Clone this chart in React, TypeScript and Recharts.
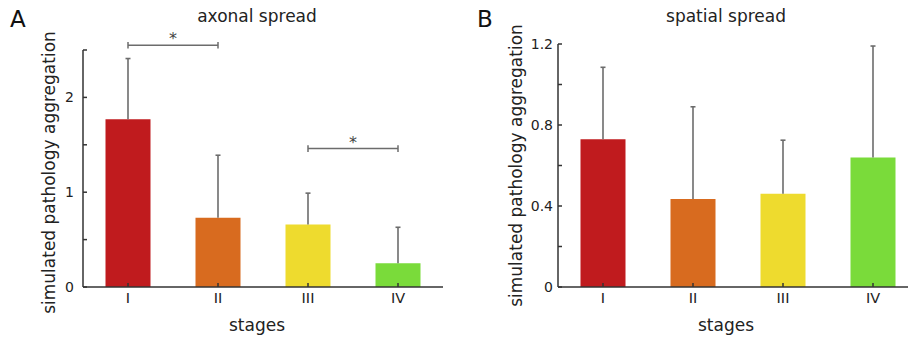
import { BarChart, Bar, XAxis, YAxis, Cell, ReferenceLine, Label } from "recharts";

const stages = ["I", "II", "III", "IV"];
const stageColors = ["#c01b1e", "#d86b1f", "#eedb2e", "#7adb3a"];

// mean and upper error (sd) per stage
const axonalMean = [1.77, 0.73, 0.66, 0.25];
const axonalErr = [0.64, 0.66, 0.33, 0.38];
const spatialMean = [0.73, 0.435, 0.46, 0.64];
const spatialErr = [0.355, 0.455, 0.265, 0.55];

const axonalTicks = [0, 0.5, 1, 1.5, 2, 2.5];
const axonalTickLabels = [0, 1, 2];
const spatialTicks = [0, 0.2, 0.4, 0.6, 0.8, 1.0, 1.2];
const spatialTickLabels = [0, 0.4, 0.8, 1.2];

// significance brackets (axonal panel only)
const axonalSig = [
  { from: "I", to: "II", y: 2.55, cap: 0.035 },
  { from: "III", to: "IV", y: 1.46, cap: 0.035 },
];

const axisColor = "#333";
const whiskerColor = "#6c6c6c";

function ErrorWhisker(props: any) {
  const { x, y, width, height } = props;
  if (height == null || isNaN(height)) return null;
  const cx = x + width / 2;
  return (
    <g stroke={whiskerColor} strokeWidth={1.6}>
      <line x1={cx} x2={cx} y1={y} y2={y + height} />
      <line x1={cx - 2.5} x2={cx + 2.5} y1={y} y2={y} />
    </g>
  );
}

function Panel(props: any) {
  const { means, errs, ticks, tickLabels, domain, width, margin, yAxisWidth, tickMargin, labelOffset, labelDy, stagesDx, sig } = props;
  const rows = stages.map((s, i) => ({ stage: s, mean: means[i], err: errs[i] }));
  const fmt = (v: number) => (tickLabels.includes(v) ? (v === 0 ? "0" : Number.isInteger(v) && ticks.length < 7 ? String(v) : v.toFixed(1)) : "");

  return (
    <BarChart width={width} height={341} data={rows} margin={margin} barCategoryGap="25%">
      <XAxis
        dataKey="stage"
        height={50}
        tickSize={-4}
        tickMargin={10}
        axisLine={{ stroke: axisColor, strokeWidth: 1.5 }}
        tickLine={{ stroke: axisColor, strokeWidth: 1.5 }}
        tick={{ fill: "#222", fontSize: 14.5 }}
      >
        <Label value="stages" position="insideBottom" offset={6} dx={stagesDx} fill="#222" fontSize={17} />
      </XAxis>
      <YAxis
        type="number"
        domain={domain}
        ticks={ticks}
        interval={0}
        width={yAxisWidth}
        tickSize={-4}
        tickMargin={tickMargin}
        tickFormatter={fmt}
        axisLine={{ stroke: axisColor, strokeWidth: 1.5 }}
        tickLine={{ stroke: axisColor, strokeWidth: 1.5 }}
        tick={{ fill: "#222", fontSize: 14 }}
      >
        <Label
          value="simulated pathology aggregation"
          angle={-90}
          position="insideLeft"
          offset={labelOffset}
          dy={labelDy}
          fill="#222"
          fontSize={17}
          style={{ textAnchor: "middle" }}
        />
      </YAxis>
      <Bar dataKey="mean" stackId="s" isAnimationActive={false}>
        {rows.map((r, i) => (
          <Cell key={r.stage} fill={stageColors[i]} />
        ))}
      </Bar>
      <Bar dataKey="err" stackId="s" isAnimationActive={false} shape={(p: any) => <ErrorWhisker {...p} />} />
      {sig.map((b: any) => [
        <ReferenceLine
          key={b.from + "h"}
          segment={[{ x: b.from, y: b.y }, { x: b.to, y: b.y }]}
          stroke={whiskerColor}
          strokeWidth={1.5}
          ifOverflow="visible"
          label={{ value: "*", position: "top", offset: 1, fill: "#444", fontSize: 16 }}
        />,
        <ReferenceLine
          key={b.from + "l"}
          segment={[{ x: b.from, y: b.y - b.cap }, { x: b.from, y: b.y + b.cap }]}
          stroke={whiskerColor}
          strokeWidth={1.5}
          ifOverflow="visible"
        />,
        <ReferenceLine
          key={b.from + "r"}
          segment={[{ x: b.to, y: b.y - b.cap }, { x: b.to, y: b.y + b.cap }]}
          stroke={whiskerColor}
          strokeWidth={1.5}
          ifOverflow="visible"
        />,
      ])}
    </BarChart>
  );
}

export default function App() {
  return (
    <div
      style={{
        position: "absolute",
        left: 0,
        top: 0,
        width: 908,
        height: 341,
        overflow: "hidden",
        background: "#fff",
        fontFamily: "'DejaVu Sans', sans-serif",
      }}
    >
      <div style={{ position: "absolute", left: 0, top: 0 }}>
        <Panel
          means={axonalMean}
          errs={axonalErr}
          ticks={axonalTicks}
          tickLabels={axonalTickLabels}
          domain={[0, 2.5]}
          width={454}
          margin={{ top: 50, right: 11, bottom: 4, left: 43 }}
          yAxisWidth={40}
          tickMargin={13}
          labelOffset={6}
          labelDy={4}
          stagesDx={-6}
          sig={axonalSig}
        />
      </div>
      <div style={{ position: "absolute", left: 454, top: 0, width: 454, height: 341, overflow: "hidden" }}>
        <Panel
          means={spatialMean}
          errs={spatialErr}
          ticks={spatialTicks}
          tickLabels={spatialTickLabels}
          domain={[0, 1.2]}
          width={474}
          margin={{ top: 44, right: 10, bottom: 4, left: 54 }}
          yAxisWidth={50}
          tickMargin={9}
          labelOffset={8}
          labelDy={0}
          stagesDx={-12}
          sig={[]}
        />
      </div>
      <svg width={908} height={341} style={{ position: "absolute", left: 0, top: 0, pointerEvents: "none" }}>
        <text x={10} y={27} fontSize={23} fill="#111">A</text>
        <text x={477} y={27} fontSize={23} fill="#111">B</text>
        <text x={257} y={22} fontSize={17} fill="#222" textAnchor="middle">axonal spread</text>
        <text x={726} y={22} fontSize={17} fill="#222" textAnchor="middle">spatial spread</text>
      </svg>
    </div>
  );
}
